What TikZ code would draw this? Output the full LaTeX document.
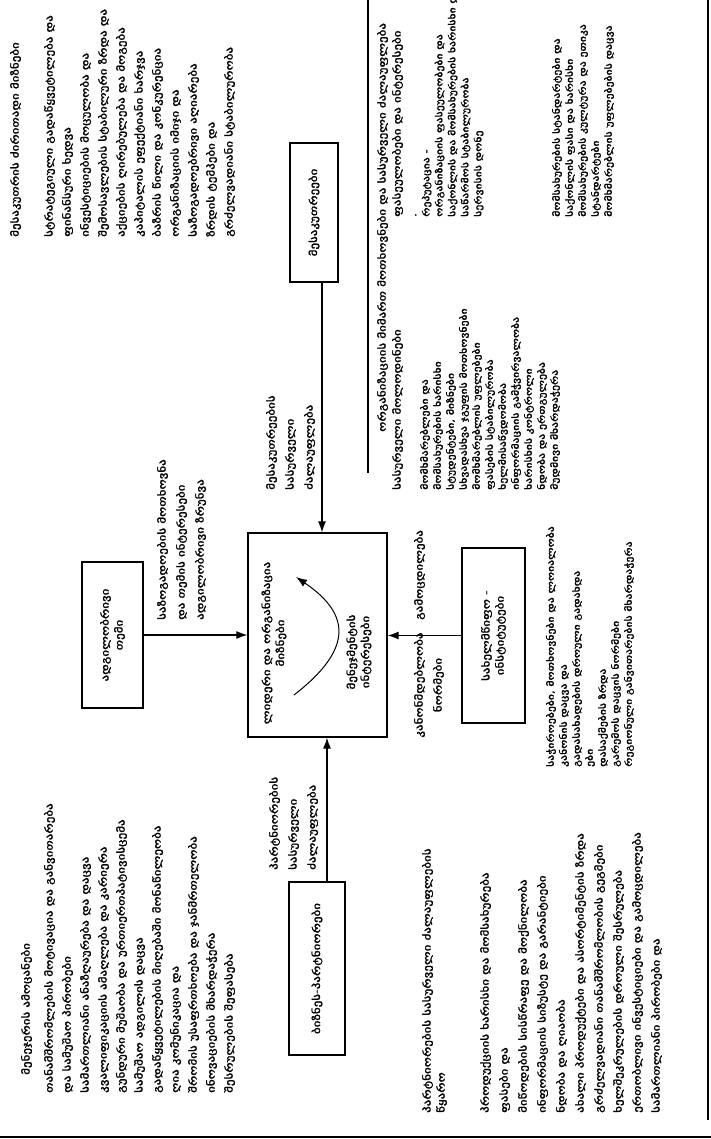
\documentclass[tikz,border=0pt]{standalone}
\usepackage{fontspec}
\newfontfamily\geo[FakeStretch=1.3,FakeBold=1.5]{DejaVu Sans}
\usetikzlibrary{positioning,arrows.meta}
\tikzset{>={Latex[length=11pt,width=8pt]}}

% everything on the sheet is turned a quarter to the left
\tikzset{
  box/.style={draw, line width=1.3pt, rotate=90, align=center, inner sep=2pt,
    font=\geo\fontsize{10}{14}\selectfont},
  conn/.style={line width=1.2pt, ->},
  lbl/.style={rotate=90, anchor=north west, align=left, inner sep=0pt,
    font=\geo\fontsize{10}{19}\selectfont},
  txt/.style={rotate=90, anchor=north west, align=left, inner sep=0pt,
    font=\geo\fontsize{10}{18}\selectfont},
  small/.style={txt, font=\geo\fontsize{9}{13}\selectfont},
}

\begin{document}
\begin{tikzpicture}[x=1pt,y=-1pt]
\useasboundingbox (0,0) rectangle (711,1139);

% the five boxes
\node[box, minimum width=139pt, minimum height=48pt] (upper) at (314,212.5) {მესაკუთრეები};
\node[box, minimum width=146pt, minimum height=61pt] (left) at (112.5,635) {ადგილობრივი\\თემი};
\node[box, minimum width=204pt, minimum height=139pt] (centre) at (317.5,635) {};
\node[box, minimum width=175pt, minimum height=63pt] (right) at (493.5,635.5) {სახელმწიფო -\\ინსტიტუტები};
\node[box, minimum width=173pt, minimum height=56pt] (lower) at (317,968.5) {ბიზნეს-პარტნიორები};

% inside the centre box
\node[box, draw=none] (goal) at (274,643) {ლიდერი და ორგანიზაცია\\მიზნები};
\node[box, draw=none] (means) at (359,652) {მენეჯმენტის\\ინტერესები};
\draw[line width=1pt, ->] (294,695) .. controls (352,650) and (352,615) .. (296,577);

% arrows into the centre box
\draw[conn] ([xshift=8pt]upper.west) -- ([xshift=8pt]upper.west |- centre.east);
\draw[conn] (left.south) -- (left.south -| centre.north);
\draw[conn] (right.north) -- (right.north -| centre.south);
\draw[conn] ([xshift=10pt]lower.east) -- ([xshift=10pt]lower.east |- centre.west);

% arrow labels
\node[lbl] (upperlbl) at (266,490) {მესაკუთრეების\\სასურველი\\ძალაუფლება};
\node[lbl] (leftlbl) at (157,620) {საზოგადოების მოთხოვნა\\და თემის ინტერესები\\ადგილობრივი ზრუნვა};
\node[lbl] (lowerlbl) at (269,870) {პარტნიორების\\სასურველი\\ძალაუფლება};
\node[lbl] (rightlbl) at (414,620) {გამოცდილება};
\node[lbl, anchor=north, align=center] (rightlbl2) at (414,685) {კანონმდებლობა\\ნორმები};

% rule over the right hand notes
\draw[line width=1.2pt] (368,0) -- (368,473);
\node[txt] (rhead) at (377,432) {ორგანიზაციის მიმართ მოთხოვნები და სასურველი ძალაუფლება};

% notes, upper left
\node[txt] (ownhead) at (10,237) {მესაკუთრის ძირითადი მიზნები};
\node[txt] (owntxt) at (44,237) {სტრატეგიული გადაწყვეტილება და\\
ფინანსური ხედვა\\
ინვესტიციების მოცულობა და\\
შემოსავლების სტაბილური ზრდა და\\
აქციების ღირებულება და მოგება\\
კაპიტალის ეფექტიანი ხარჯვა\\
ბაზრის წილი და კონკურენცია\\
ორგანიზაციის იმიჯი და\\
საზოგადოებრივი აღიარება\\
ზრდის ტემპები და\\
გრძელვადიანი სტაბილურობა};

% notes, lower left
\node[txt] (mgrhead) at (21,1075) {მენეჯერის ამოცანები};
\node[txt] (mgrtxt) at (44,1093) {თანამშრომლების მოტივაცია და განვითარება\\
და სამუშაო პირობები\\
სამართლიანი ანაზღაურება და დაცვა\\
კვალიფიკაციის ამაღლება და კარიერა\\
გუნდური მუშაობა და ურთიერთპატივისცემა\\
სამუშაო ადგილის დაცვა\\
გადაწყვეტილების მიღებაში მონაწილეობა\\
ღია კომუნიკაცია და\\
შრომის უსაფრთხოება და ჯანმრთელობა\\
ინოვაციების მხარდაჭერა\\
შესრულების შეფასება};

% notes, upper right
\node[txt] (valhead) at (392,217) {ფასეულობები და ინტერესები};
\node[small] (valtxt) at (415,217) {.\\
რეპუტაცია -\\
ორგანიზაციის ფასეულობები და\\
საქონლის და მომსახურების ხარისხი და\\
საწარმოს სტაბილურობა\\
სერვისის დონე};
\node[small] (valtxt2) at (552,217) {მომსახურების სტანდარტები და\\
საქონლის ფასი და ხარისხი\\
მომსახურების კულტურა და ეთიკა\\
სტანდარტები\\
მომხმარებლის უფლებების დაცვა};
\node[txt] (wishhead) at (392,490) {სასურველი მოლოდინები};
\node[small] (wishtxt) at (420,490) {მომხმარებლები და\\
მომსახურების ხარისხი\\
სტუდენტები, მიზნები\\
სხვადასხვა ჯგუფის მოთხოვნები\\
მომხმარებლის უფლებები\\
ფასების სტაბილურობა\\
ხელმისაწვდომობა\\
ინფორმაციის გამჭვირვალობა\\
ხარისხის კონტროლი\\
ნდობა და ერთგულება\\
მუდმივი მხარდაჭერა};

% notes, middle right
\node[small] (statetxt) at (546,767) {საჭიროებები, მოთხოვნები და ლოიალობა\\
კანონის დაცვა და\\
გადასახადების დროული გადახდა\\
ები\\
დასაქმების ზრდა\\
გარემოს დაცვის ნორმები\\
რეგიონული განვითარების მხარდაჭერა};

% notes, lower right
\node[txt, font=\geo\fontsize{10}{14}\selectfont] (parthead) at (422,1113) {პარტნიორების სასურველი ძალაუფლების\\წყარო};
\node[txt, font=\geo\fontsize{10}{19}\selectfont] (parttxt) at (480,1113) {პროდუქციის ხარისხი და მომსახურება\\
ფასები და\\
მიწოდების სისწრაფე და მოქნილობა\\
ინფორმაციის სიზუსტე და გარანტიები\\
ნდობა და ღიაობა\\
ახალი პროდუქტები და ასორტიმენტის ზრდა\\
გრძელვადიანი თანამშრომლობის გეგმები\\
ხელშეკრულების დროული შესრულება\\
ერთობლივი ინვესტიციები და გამოცდილება\\
სამართლიანი პირობები და};

% edges of the sheet
\draw[line width=2.5pt] (708,0) -- (708,1120);
\draw[line width=2.5pt] (0,1137) -- (711,1137);
\end{tikzpicture}
\end{document}
